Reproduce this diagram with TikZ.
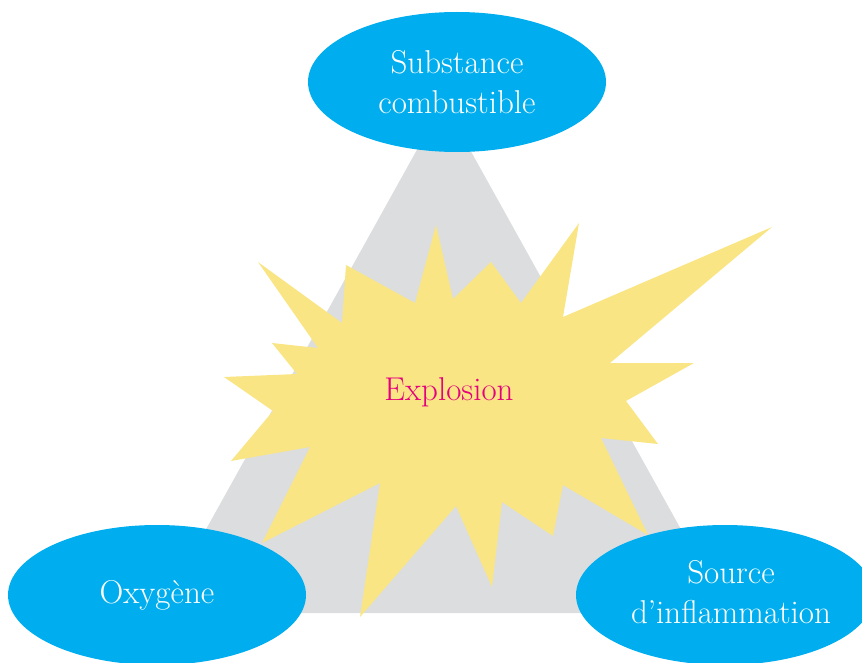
\documentclass[tikz,border=0pt]{standalone}
\usetikzlibrary{shapes.geometric}
\definecolor{bubble}{HTML}{00AEEF}
\definecolor{tri}{HTML}{DCDDDE}
\definecolor{burst}{HTML}{F9E584}
\definecolor{mag}{HTML}{E6007E}
\tikzset{
  bubblenode/.style={ellipse, fill=bubble, draw=none, minimum width=298pt, minimum height=140pt, inner sep=0pt,
    text=white, align=center, font=\fontsize{33}{40}\selectfont},
  labelnode/.style={text=mag, font=\fontsize{33}{40}\selectfont, inner sep=0pt}
}
\begin{document}
\begin{tikzpicture}[x=1pt,y=-1pt]
\useasboundingbox (0,0) rectangle (862,663);
% triangle
\fill[tri] (443.5,102) -- (727.5,613) -- (159.5,613) -- cycle;
% burst
\fill[burst] (258,262) -- (342,323) -- (346,265) -- (415,303) -- (436,225) -- (453,299)
 -- (491,262) -- (521,303) -- (579,223) -- (563,317) -- (772,227) -- (610,363)
 -- (694,363) -- (626,401) -- (658,444) -- (601,438) -- (648,535) -- (563,485)
 -- (553,536) -- (502,502) -- (492,587) -- (456,506) -- (360,617) -- (380,483)
 -- (262,543) -- (310,447) -- (231,461) -- (273,411) -- (224,377) -- (297,374)
 -- (272,343) -- (318,348) -- cycle;
\node[labelnode, anchor=base] (expl) at (449,400) {Explosion};
% ellipses
\node[bubblenode] (fuel) at (457,82) {Substance\\combustible};
\node[bubblenode] (oxy) at (157,595) {Oxygène};
\node[bubblenode] (src) at (725,595) {};
\node[text=white, align=center, font=\fontsize{33}{40}\selectfont, inner sep=0pt] (srctext) at (731,592) {Source\\d’inflammation};
\end{tikzpicture}
\end{document}
